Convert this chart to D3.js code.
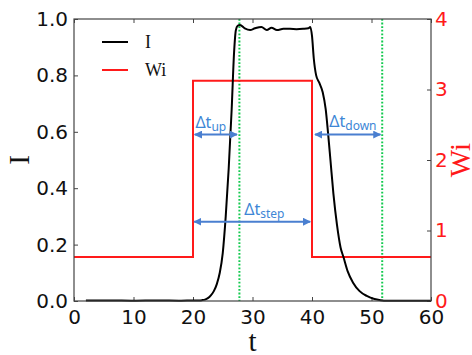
<!DOCTYPE html>
<html>
<head>
<meta charset="utf-8">
<script src="https://cdn.jsdelivr.net/npm/d3@7/dist/d3.min.js"></script>
<style>
  body { margin: 0; background: #fff; }
  svg { display: block; }
  .tick text { font-family: "DejaVu Sans", sans-serif; }
</style>
</head>
<body>
<svg id="chart" width="472" height="355"></svg>
<script>
// data
const tValues = [2, 6, 10, 14, 18, 20, 21, 21.5, 22, 22.5, 23, 23.5, 24, 24.5, 25, 25.5, 26, 26.5, 26.9, 27.2, 27.5, 27.9,
  28.7, 29.6, 30.4, 31.5, 32.4, 33.2, 34.1, 35.2, 36.3, 37.4, 38.5, 39.4, 39.7,
  40.0, 40.3, 40.7, 41.2, 41.8, 42.3, 42.7, 43.1, 43.6, 44.2, 44.8, 45.3, 46.0, 46.9, 48.0, 49.2, 50.5, 51.5, 52.5, 55, 58, 60];
const iValues = [0.002, 0.002, 0.001, 0.002, 0.001, 0.002, 0.002, 0.003, 0.005, 0.01, 0.02, 0.035, 0.06, 0.1, 0.17, 0.3, 0.47, 0.68, 0.88, 0.96, 0.976, 0.979,
  0.967, 0.961, 0.967, 0.972, 0.961, 0.969, 0.961, 0.965, 0.965, 0.964, 0.965, 0.967, 0.972,
  0.94, 0.86, 0.80, 0.775, 0.74, 0.68, 0.595, 0.50, 0.38, 0.27, 0.19, 0.155, 0.105, 0.065, 0.035, 0.018, 0.007, 0.003, 0.001, 0.001, 0.001, 0.001];

const wiTimes = [0, 20, 20, 40, 40, 60];
const wiValues = [0.625, 0.625, 3.125, 3.125, 0.625, 0.625];

const markerTimes = [27.8, 51.8];

const xTicks = [0, 10, 20, 30, 40, 50, 60];
const yTicks = [0, 0.2, 0.4, 0.6, 0.8, 1.0];
const y2Ticks = [0, 1, 2, 3, 4];

const legendItems = ['I', 'Wi'];

// annotations: [t start, t end, I level], subscript, label anchor (t, I)
const arrowSpans = [[20.3, 27.4, 0.59], [20.2, 39.7, 0.281], [40.5, 51.5, 0.59]];
const arrowLabels = ['up', 'step', 'down'];
const labelAnchors = [[20.4, 0.613], [28.6, 0.305], [42.9, 0.618]];

// layout
const width = 472, height = 355;
const margins = { left: 74, top: 19, right: 41, bottom: 54 };
const innerWidth = width - margins.left - margins.right;
const innerHeight = height - margins.top - margins.bottom;

const svg = d3.select('#chart');

const x = d3.scaleLinear().domain([0, 60]).range([0, innerWidth]);
const y = d3.scaleLinear().domain([0, 1]).range([innerHeight, 0]);
const y2 = d3.scaleLinear().domain([0, 4]).range([innerHeight, 0]);

const plot = svg.append('g')
  .attr('transform', `translate(${margins.left}, ${margins.top})`);

const defs = svg.append('defs');
defs.append('clipPath').attr('id', 'clip')
  .append('rect').attr('width', innerWidth).attr('height', innerHeight);

defs.append('marker')
  .attr('id', 'head')
  .attr('viewBox', '0 0 10 10')
  .attr('refX', 9).attr('refY', 5)
  .attr('markerWidth', 4).attr('markerHeight', 4)
  .attr('orient', 'auto-start-reverse')
  .append('path')
  .attr('d', 'M0,0 L10,5 L0,10 Z')
  .attr('fill', '#4a7fd0');

// axes
const axisFont = '20px';

const xAxis = plot.append('g')
  .attr('transform', `translate(0, ${innerHeight})`)
  .call(d3.axisBottom(x).tickValues(xTicks).tickSizeInner(-4).tickSizeOuter(0).tickPadding(9));

const xTop = plot.append('g')
  .call(d3.axisTop(x).tickValues(xTicks).tickSizeInner(-4).tickSizeOuter(0).tickFormat(''));

const yAxis = plot.append('g')
  .call(d3.axisLeft(y).tickValues(yTicks).tickSizeInner(-4).tickSizeOuter(0).tickPadding(6).tickFormat(d3.format('.1f')));

const yAxis2 = plot.append('g')
  .attr('transform', `translate(${innerWidth}, 0)`)
  .call(d3.axisRight(y2).tickValues(y2Ticks).tickSizeInner(-4).tickSizeOuter(0).tickPadding(4).tickFormat(d3.format('d')));

[xAxis, xTop, yAxis, yAxis2].forEach((g) => {
  g.select('.domain').remove();
  g.selectAll('.tick line').attr('stroke', '#444');
  g.selectAll('.tick text').style('font-size', axisFont).attr('fill', '#111');
});
yAxis2.selectAll('.tick text').attr('fill', '#ff1a1a');

// dotted markers
plot.selectAll('line.marker')
  .data(markerTimes)
  .enter()
  .append('line')
  .attr('class', 'marker')
  .attr('x1', (d) => x(d)).attr('x2', (d) => x(d))
  .attr('y1', 0).attr('y2', innerHeight)
  .attr('stroke', '#12c94e')
  .attr('stroke-width', 2)
  .attr('stroke-dasharray', '1.8 1.8');

// Wi step
const wiData = wiTimes.map((t, i) => ({ t, v: wiValues[i] }));
plot.append('path')
  .datum(wiData)
  .attr('clip-path', 'url(#clip)')
  .attr('fill', 'none')
  .attr('stroke', '#ff1a1a')
  .attr('stroke-width', 2)
  .attr('d', d3.line().x((d) => x(d.t)).y((d) => y2(d.v)));

// I curve
const iData = tValues.map((t, i) => ({ t, v: iValues[i] }));
plot.append('path')
  .datum(iData)
  .attr('fill', 'none')
  .attr('stroke', '#000')
  .attr('stroke-width', 2)
  .attr('d', d3.line().curve(d3.curveMonotoneX).x((d) => x(d.t)).y((d) => y(d.v)));

// frame
plot.append('rect')
  .attr('width', innerWidth).attr('height', innerHeight)
  .attr('fill', 'none')
  .attr('stroke', '#444')
  .attr('stroke-width', 1.2);

// arrows and labels
plot.selectAll('line.span')
  .data(arrowSpans)
  .enter()
  .append('line')
  .attr('class', 'span')
  .attr('x1', (d) => x(d[0])).attr('x2', (d) => x(d[1]))
  .attr('y1', (d) => y(d[2])).attr('y2', (d) => y(d[2]))
  .attr('stroke', '#4a7fd0')
  .attr('stroke-width', 2)
  .attr('marker-start', 'url(#head)')
  .attr('marker-end', 'url(#head)');

const labels = plot.selectAll('text.span')
  .data(arrowLabels)
  .enter()
  .append('text')
  .attr('class', 'span')
  .attr('x', (d, i) => x(labelAnchors[i][0]))
  .attr('y', (d, i) => y(labelAnchors[i][1]))
  .attr('fill', '#3d86d6')
  .style('font-family', '"Noto Sans", sans-serif')
  .style('font-size', '16px');
labels.append('tspan').text('Δt');
labels.append('tspan').attr('dy', 3).style('font-size', '12px').text((d) => d);

// legend
const legendColors = ['#000', '#ff1a1a'];
const legend = plot.append('g').attr('transform', 'translate(28, 23)');
legendItems.forEach((name, i) => {
  legend.append('line')
    .attr('x1', 0).attr('x2', 26)
    .attr('y1', i * 28).attr('y2', i * 28)
    .attr('stroke', legendColors[i])
    .attr('stroke-width', 2);
  legend.append('text')
    .attr('x', 43).attr('y', i * 28 + 6)
    .style('font-family', '"Liberation Serif", serif')
    .style('font-size', '18px')
    .attr('fill', '#111')
    .text(name);
});

// axis labels
svg.append('text')
  .attr('x', margins.left + innerWidth / 2)
  .attr('y', height - 4)
  .attr('text-anchor', 'middle')
  .style('font-family', '"Liberation Serif", serif')
  .style('font-size', '29px')
  .attr('fill', '#111')
  .text('t');

svg.append('text')
  .attr('transform', `translate(29, ${margins.top + innerHeight / 2}) rotate(-90)`)
  .attr('text-anchor', 'middle')
  .style('font-family', '"Liberation Serif", serif')
  .style('font-size', '29px')
  .attr('fill', '#111')
  .text('I');

svg.append('text')
  .attr('transform', `translate(470, ${margins.top + innerHeight / 2}) rotate(-90)`)
  .attr('text-anchor', 'middle')
  .style('font-family', '"Liberation Serif", serif')
  .style('font-size', '29px')
  .attr('fill', '#ff1a1a')
  .text('Wi');
</script>
</body>
</html>
